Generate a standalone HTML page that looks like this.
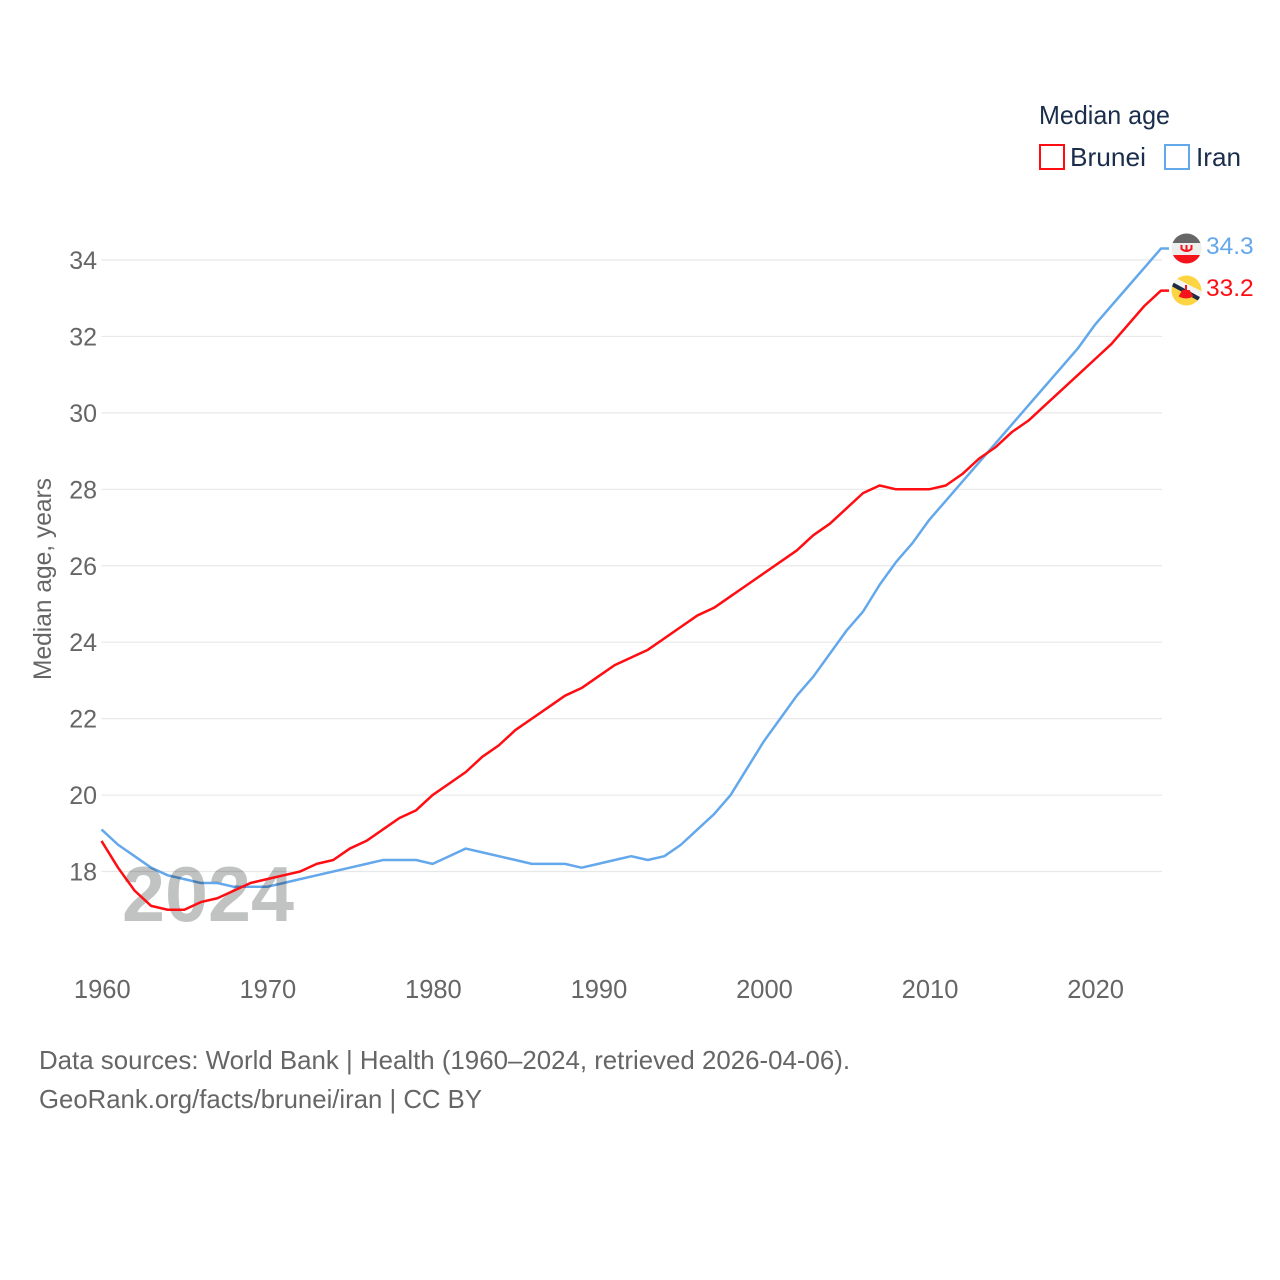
<!DOCTYPE html>
<html>
<head>
<meta charset="utf-8">
<title>Median age: Brunei and Iran</title>
<style>
html,body{margin:0;padding:0;background:#fff;}
svg{display:block;}
text{font-family:"Liberation Sans",sans-serif;}
</style>
</head>
<body>
<svg id="chart" xmlns="http://www.w3.org/2000/svg" width="1280" height="1280" viewBox="0 0 1280 1280">
  <rect x="0" y="0" width="1280" height="1280" fill="#ffffff"/>
  <g id="grid"></g>
  <g id="yticks"></g>
  <g id="xticks"></g>
  <text transform="translate(51,579) rotate(-90)" text-anchor="middle" font-size="25" fill="#666666" textLength="202" lengthAdjust="spacingAndGlyphs">Median age, years</text>
  <g id="series-iran"></g>
  <text x="122" y="921" font-size="78" font-weight="700" fill="#c1c3c3" textLength="172" lengthAdjust="spacingAndGlyphs" style="mix-blend-mode:multiply">2024</text>
  <g id="series-brunei"></g>

  <defs>
    <clipPath id="clip-iran"><circle cx="1186.5" cy="248.500" r="15"/></clipPath>
    <clipPath id="clip-brunei"><circle cx="1186.5" cy="290.500" r="15"/></clipPath>
  </defs>
  <g clip-path="url(#clip-iran)">
    <rect x="1171" y="233" width="31" height="10" fill="#666666"/>
    <rect x="1171" y="243" width="31" height="12" fill="#eeeeee"/>
    <rect x="1171" y="255" width="31" height="9" fill="#f5141c"/>
    <path d="M1181.500 245 v4 q5 4 10 0 v-4 M1186.500 245 v7" fill="none" stroke="#f5141c" stroke-width="2"/>
  </g>
  <g clip-path="url(#clip-brunei)">
    <rect x="1171" y="275" width="31" height="31" fill="#fdd542"/>
    <path d="M1170 279 L1203 296" stroke="#f4f4f4" stroke-width="7" fill="none"/>
    <path d="M1170 283 L1203 301" stroke="#1f2a44" stroke-width="4" fill="none"/>
    <path d="M1186 285 v6 M1180 296 q6 3 12 0 l-3 -5 h-6 z" stroke="#f5141c" stroke-width="2" fill="#f5141c"/>
  </g>

  <text x="1206" y="254" font-size="24.500" fill="#64a8ec">34.3</text>
  <text x="1206" y="296" font-size="24.500" fill="#ff0d12">33.2</text>

  <g>
    <text x="1039" y="124" font-size="26" fill="#1a2e4c" textLength="131" lengthAdjust="spacingAndGlyphs">Median age</text>
    <g>
      <rect x="1040" y="145" width="24" height="24" fill="none" stroke="#ff0d12" stroke-width="2"/>
      <text x="1070" y="166" font-size="26" fill="#1a2e4c" textLength="76" lengthAdjust="spacingAndGlyphs">Brunei</text>
    </g>
    <g>
      <rect x="1165" y="145" width="24" height="24" fill="none" stroke="#64a8ec" stroke-width="2"/>
      <text x="1196" y="166" font-size="26" fill="#1a2e4c" textLength="45" lengthAdjust="spacingAndGlyphs">Iran</text>
    </g>
  </g>

  <text x="39" y="1069" font-size="26" fill="#666666" textLength="811" lengthAdjust="spacingAndGlyphs">Data sources: World Bank | Health (1960–2024, retrieved 2026-04-06).</text>
  <a><text x="39" y="1108" font-size="26" fill="#666666" textLength="443" lengthAdjust="spacingAndGlyphs">GeoRank.org/facts/brunei/iran | CC BY</text></a>
</svg>
<script>
const startYear = 1960;
const yTickValues = [18, 20, 22, 24, 26, 28, 30, 32, 34];
const xTickValues = [1960, 1970, 1980, 1990, 2000, 2010, 2020];
const bruneiValues = [18.8,18.1,17.5,17.1,17.0,17.0,17.2,17.3,17.5,17.7,17.8,17.9,18.0,18.2,18.3,18.6,18.8,19.1,19.4,19.6,20.0,20.3,20.6,21.0,21.3,21.7,22.0,22.3,22.6,22.8,23.1,23.4,23.6,23.8,24.1,24.4,24.7,24.9,25.2,25.5,25.8,26.1,26.4,26.8,27.1,27.5,27.9,28.1,28.0,28.0,28.0,28.1,28.4,28.8,29.1,29.5,29.8,30.2,30.6,31.0,31.4,31.8,32.3,32.8,33.2];
const iranValues = [19.1,18.7,18.4,18.1,17.9,17.8,17.7,17.7,17.6,17.6,17.6,17.7,17.8,17.9,18.0,18.1,18.2,18.3,18.3,18.3,18.2,18.4,18.6,18.5,18.4,18.3,18.2,18.2,18.2,18.1,18.2,18.3,18.4,18.3,18.4,18.7,19.1,19.5,20.0,20.7,21.4,22.0,22.6,23.1,23.7,24.3,24.8,25.5,26.1,26.6,27.2,27.7,28.2,28.7,29.2,29.7,30.2,30.7,31.2,31.7,32.3,32.8,33.3,33.8,34.3];

const SVG_NS = 'http://www.w3.org/2000/svg';
const plotLeft = 101.5;
const plotRight = 1162;
function xScale(year) { return plotLeft + (year - 1960) * (1161 - 101.5) / 64; }
function yScale(v) { return 871.5 - (v - 18) * (871.5 - 260) / 16; }

const gridG = document.getElementById('grid');
const yG = document.getElementById('yticks');
yTickValues.forEach(function (v) {
  const line = document.createElementNS(SVG_NS, 'line');
  
  
  line.setAttribute('x1', plotLeft);
  line.setAttribute('x2', plotRight);
  line.setAttribute('y1', yScale(v));
  line.setAttribute('y2', yScale(v));
  line.setAttribute('stroke', '#e8e8e8');
  line.setAttribute('stroke-width', '1.2');
  gridG.appendChild(line);
  const label = document.createElementNS(SVG_NS, 'text');
  
  
  label.setAttribute('x', 97);
  label.setAttribute('y', yScale(v) + 9);
  label.setAttribute('text-anchor', 'end');
  label.setAttribute('font-size', '25');
  label.setAttribute('fill', '#666666');
  label.textContent = String(v);
  yG.appendChild(label);
});

const xG = document.getElementById('xticks');
xTickValues.forEach(function (yr) {
  const label = document.createElementNS(SVG_NS, 'text');
  
  
  label.setAttribute('x', xScale(yr) + 0.8);
  label.setAttribute('y', 998);
  label.setAttribute('text-anchor', 'middle');
  label.setAttribute('font-size', '25.5');
  label.setAttribute('fill', '#666666');
  label.textContent = String(yr);
  xG.appendChild(label);
});

function drawSeries(groupId, values, color) {
  const pts = values.map(function (v, i) { return xScale(startYear + i).toFixed(2) + ',' + yScale(v).toFixed(2); });
  const last = values[values.length - 1];
  pts.push('1169,' + yScale(last).toFixed(2));
  const line = document.createElementNS(SVG_NS, 'polyline');
  
  
  line.setAttribute('points', pts.join(' '));
  line.setAttribute('fill', 'none');
  line.setAttribute('stroke', color);
  line.setAttribute('stroke-width', '2.5');
  line.setAttribute('stroke-linejoin', 'round');
  document.getElementById(groupId).appendChild(line);
}
drawSeries('series-iran', iranValues, '#64a8ec');
drawSeries('series-brunei', bruneiValues, '#ff0d12');
</script>
</body>
</html>
